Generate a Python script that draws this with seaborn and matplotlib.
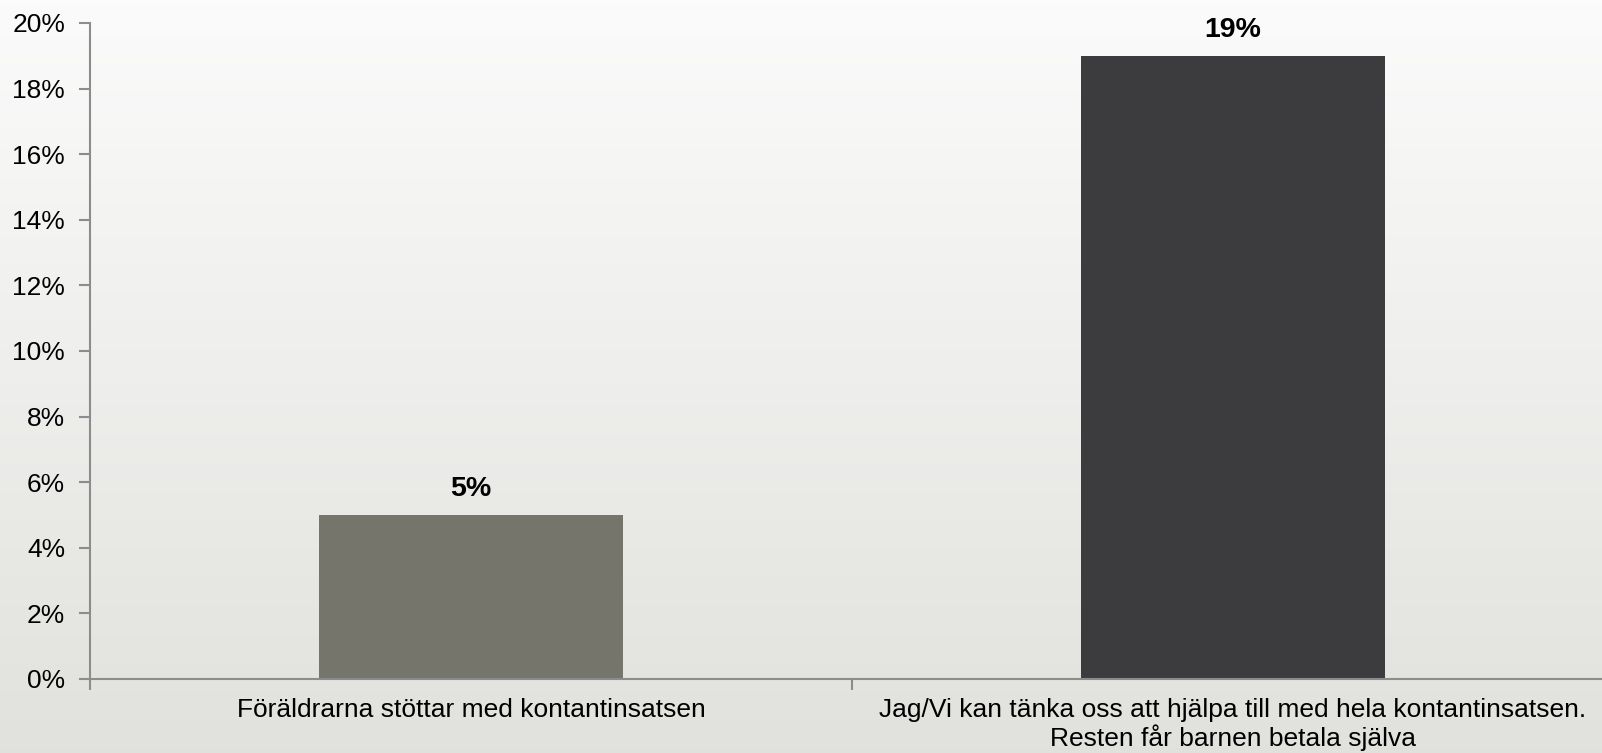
import numpy as np
import pandas as pd
import matplotlib
matplotlib.use("Agg")
import matplotlib.pyplot as plt
import seaborn as sns
from matplotlib.ticker import FixedLocator, FuncFormatter

categories = ["Föräldrarna stöttar med kontantinsatsen",
              "Jag/Vi kan tänka oss att hjälpa till med hela kontantinsatsen.\nResten får barnen betala själva"]
values = [5, 19]
value_labels = ["5%", "19%"]
bar_colors = ["#75756b", "#3c3c3e"]
yticks = [0, 2, 4, 6, 8, 10, 12, 14, 16, 18, 20]

sns.set_style("white")
plt.rcParams['font.family'] = ['Liberation Sans', 'DejaVu Sans']
plt.rcParams['text.color'] = 'black'
plt.rcParams['xtick.color'] = 'black'
plt.rcParams['ytick.color'] = 'black'

W, H = 1602, 753
fig = plt.figure(figsize=(W / 100, H / 100), dpi=100)

# gradient background
bg = fig.add_axes([0, 0, 1, 1], zorder=-10)
grad = np.linspace(0, 1, 256).reshape(-1, 1)
top = np.array([0.985, 0.985, 0.985])
bot = np.array([0.882, 0.882, 0.866])
img = top[None, None, :] * (1 - grad[:, :, None]) + bot[None, None, :] * grad[:, :, None]
bg.imshow(img, aspect='auto', extent=[0, 1, 0, 1])
bg.axis('off')

left = 90 / W
bottom = (H - 679) / H
top_ = (H - 23) / H
ax = fig.add_axes([left, bottom, (W - 90) / W, top_ - bottom])
ax.patch.set_alpha(0)

df = pd.DataFrame({"cat": categories, "val": values})
sns.barplot(data=df, x="cat", y="val", hue="cat", palette=bar_colors,
            width=0.40, saturation=1, legend=False, linewidth=0, ax=ax)

for cont, lab in zip(ax.containers, value_labels):
    ax.bar_label(cont, labels=[lab], padding=9.5, fontsize=20.5, fontweight='bold', color='black')

ax.set_ylim(0, 20)
ax.set_xlim(-0.5, -0.5 + (W - 90) / 762)
ax.set_yticks(yticks)
ax.yaxis.set_major_formatter(FuncFormatter(lambda v, p: f"{int(v)}%"))
ax.tick_params(axis='y', labelsize=19, length=8, width=1.5, color='#8c8c8c', left=True, pad=10)
ax.tick_params(axis='x', which='major', length=0, labelsize=19, pad=14)
for t in ax.get_xticklabels():
    t.set_linespacing(1.1)
ax.xaxis.set_minor_locator(FixedLocator([-0.5, 0.5, 1.5]))
ax.tick_params(axis='x', which='minor', length=8, width=1.5, color='#8c8c8c', bottom=True)
ax.set_xlabel("")
ax.set_ylabel("")
for s in ['top', 'right']:
    ax.spines[s].set_visible(False)
for s in ['left', 'bottom']:
    ax.spines[s].set_color('#8c8c8c')
    ax.spines[s].set_linewidth(1.5)

fig.savefig("out.png", dpi=100)
